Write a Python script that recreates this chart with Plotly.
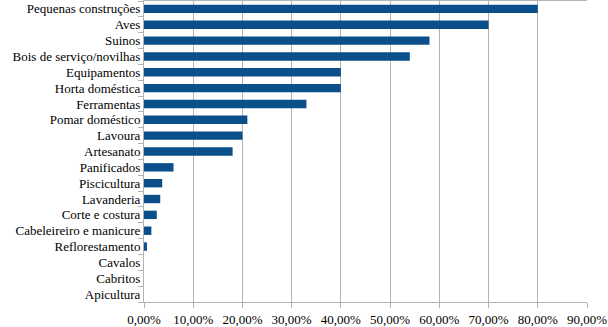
import plotly.graph_objects as go

categories = ["Pequenas construções", "Aves", "Suinos", "Bois de serviço/novilhas",
              "Equipamentos", "Horta doméstica", "Ferramentas", "Pomar doméstico",
              "Lavoura", "Artesanato", "Panificados", "Piscicultura", "Lavanderia",
              "Corte e costura", "Cabeleireiro e manicure", "Reflorestamento",
              "Cavalos", "Cabritos", "Apicultura"]
values_pct = [80, 70, 58, 54, 40, 40, 33, 21, 20, 18, 6, 3.7, 3.3, 2.6, 1.5, 0.6, 0, 0, 0]
tick_vals_pct = [0, 10, 20, 30, 40, 50, 60, 70, 80, 90]

values = [v / 100 for v in values_pct]
tick_vals = [v / 100 for v in tick_vals_pct]

fig = go.Figure(go.Bar(
    x=values, y=categories, orientation="h",
    marker=dict(color="#0B4F8A", line=dict(width=0)),
))

grid = "#B3B3B3"
fig.update_layout(
    width=608, height=327,
    margin=dict(l=144, r=21, t=0, b=23),
    paper_bgcolor="white", plot_bgcolor="white",
    separators=",.",
    bargap=0.47,
    showlegend=False,
    font=dict(family="Liberation Serif", size=13, color="black"),
    xaxis=dict(range=[0, 0.9], tickvals=tick_vals, tickformat=".2%",
               showgrid=True, gridcolor=grid, gridwidth=1,
               showline=True, linecolor=grid, linewidth=1, mirror=True,
               ticks="outside", ticklen=5, tickcolor=grid, zeroline=False,
               fixedrange=True),
    yaxis=dict(categoryorder="array", categoryarray=categories, autorange="reversed",
               tickmode="array", tickvals=categories,
               showline=True, linecolor=grid, linewidth=1,
               ticks="outside", ticklen=5, tickcolor=grid, tickson="boundaries",
               showgrid=False, fixedrange=True),
)

fig.write_html("out.html")
